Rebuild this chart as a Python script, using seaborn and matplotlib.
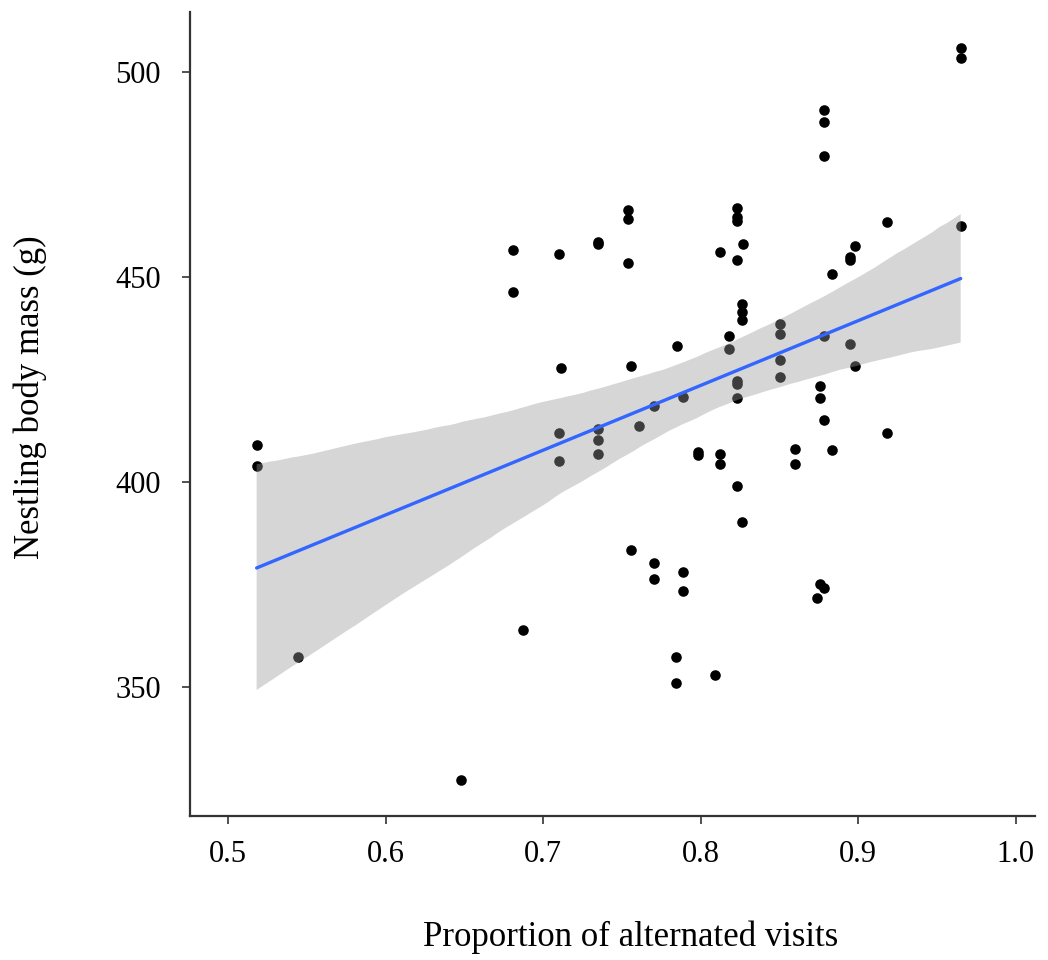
import numpy as np
import pandas as pd
import matplotlib
matplotlib.use("Agg")
import matplotlib.pyplot as plt
import seaborn as sns

# proportion of alternated visits vs nestling body mass (g)
alternation = [
    0.518, 0.518, 0.544, 0.648, 0.681, 0.681, 0.687, 0.710, 0.711, 0.710,
    0.710, 0.735, 0.735, 0.735, 0.735, 0.735, 0.7535, 0.7535, 0.7535, 0.756,
    0.756, 0.761, 0.770, 0.770, 0.770, 0.784, 0.784, 0.785, 0.789, 0.789,
    0.789, 0.798, 0.798, 0.809, 0.812, 0.812, 0.812, 0.818, 0.818, 0.823,
    0.823, 0.823, 0.823, 0.823, 0.823, 0.823, 0.823, 0.826, 0.826, 0.826,
    0.826, 0.827, 0.850, 0.850, 0.850, 0.850, 0.860, 0.860, 0.874, 0.876,
    0.876, 0.876, 0.878, 0.878, 0.878, 0.878, 0.878, 0.878, 0.883, 0.883,
    0.895, 0.895, 0.895, 0.898, 0.898, 0.918, 0.918, 0.965, 0.965, 0.965,
]
body_mass = [
    409.1, 403.8, 357.4, 327.2, 456.5, 446.2, 363.8, 455.5, 427.7, 412.0,
    405.2, 458.5, 458.0, 413.0, 410.1, 406.7, 466.4, 464.2, 453.5, 428.2,
    383.3, 413.6, 418.5, 380.3, 376.4, 357.4, 351.0, 433.1, 420.7, 377.9,
    373.5, 407.2, 406.6, 353.0, 456.0, 406.7, 404.3, 435.6, 432.5, 466.9,
    464.6, 463.6, 454.1, 424.6, 423.8, 420.4, 398.9, 443.5, 441.5, 439.4,
    390.1, 457.9, 438.5, 436.0, 429.7, 425.6, 408.1, 404.3, 371.6, 423.3,
    420.4, 375.0, 490.7, 487.7, 479.4, 435.5, 415.0, 374.0, 450.7, 407.7,
    454.9, 454.1, 433.6, 457.5, 428.2, 463.3, 412.0, 505.9, 503.3, 462.3,
]
x_ticks = [0.5, 0.6, 0.7, 0.8, 0.9, 1.0]
y_ticks = [350, 400, 450, 500]

df = pd.DataFrame({"alt": alternation, "mass": body_mass})

sns.set_style("ticks")
plt.rcParams["font.family"] = ["Liberation Serif", "DejaVu Serif"]
plt.rcParams["text.color"] = "black"
plt.rcParams["axes.labelcolor"] = "black"
plt.rcParams["xtick.labelcolor"] = "black"
plt.rcParams["ytick.labelcolor"] = "black"

fig = plt.figure(figsize=(10.48, 9.6), dpi=100)
ax = fig.add_axes([0.1813, 0.15, 0.8063, 0.8375])

sns.scatterplot(data=df, x="alt", y="mass", color="black", s=58,
                linewidth=0, ax=ax, zorder=2)
sns.regplot(data=df, x="alt", y="mass", scatter=False, ax=ax,
            color="#3366FF", n_boot=2000, seed=1,
            line_kws={"linewidth": 2.4, "zorder": 4})

# ggplot-like grey band laid over the points
band = ax.collections[-1]
band.set_facecolor((0.6, 0.6, 0.6))
band.set_alpha(0.4)
band.set_edgecolor("none")
band.set_zorder(3)

ax.set_xlim(0.4757, 1.0122)
ax.set_ylim(318.5, 514.6)
ax.set_xticks(x_ticks)
ax.set_xticklabels([f"{v:.1f}" for v in x_ticks])
ax.set_yticks(y_ticks)

ax.set_xlabel("Proportion of alternated visits", fontsize=25)
ax.set_ylabel("Nestling body mass (g)", fontsize=25)
ax.xaxis.set_label_coords(0.521, -0.13)
ax.yaxis.set_label_coords(-0.169, 0.521)

for side in ["top", "right"]:
    ax.spines[side].set_visible(False)
for side in ["left", "bottom"]:
    ax.spines[side].set_color("#333333")
    ax.spines[side].set_linewidth(1.6)
ax.tick_params(axis="x", length=6, width=1.2, color="#333333",
               labelsize=22, pad=11)
ax.tick_params(axis="y", length=6, width=1.2, color="#333333",
               labelsize=22, pad=15)

fig.savefig("out.png", dpi=100)
